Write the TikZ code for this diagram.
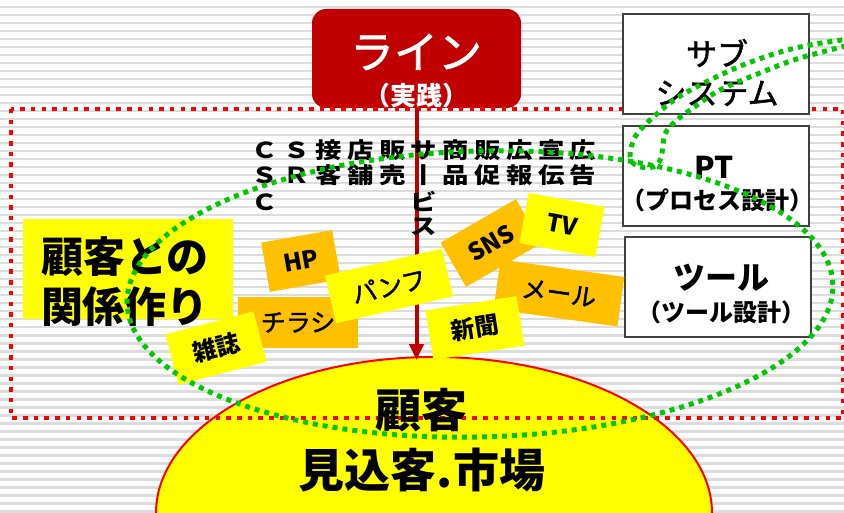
\documentclass[tikz,border=0pt]{standalone}
\usepackage{fontspec}
\setmainfont{Noto Sans CJK JP}
\newfontfamily\colfont[FakeStretch=1.2]{Noto Sans CJK JP}
\newfontfamily\medfont[FakeBold=1.6]{Noto Sans CJK JP}
\usetikzlibrary{shapes.geometric,arrows.meta}
\definecolor{darkred}{HTML}{C00000}
\definecolor{orng}{HTML}{FFC000}
\definecolor{ylw}{HTML}{FFFF00}
\definecolor{grn}{HTML}{00C800}
\definecolor{rdot}{HTML}{FF0000}
\definecolor{stripe}{HTML}{DCDCDC}
\definecolor{boxline}{HTML}{404040}
\newcommand\cw[1]{\makebox[31.8pt]{#1}}
\newcommand\fs[2]{\fontsize{#1}{#2}\selectfont}
\tikzset{
  reddot/.style={draw=rdot, line width=4pt, dash pattern=on 4.5pt off 6.2pt},
  greendot/.style={draw=grn, line width=5pt, dash pattern=on 5pt off 5pt},
  rbox/.style={draw=boxline, line width=1.5pt, fill=white, minimum width=186pt, minimum height=100pt, inner sep=0pt},
  tagO/.style={fill=orng, inner sep=0pt},
  tagY/.style={fill=ylw, inner sep=0pt},
  tagb/.style={font=\bfseries\fs{24}{24}},
  tagr/.style={font=\medfont\fs{25}{25}},
  coltext/.style={inner sep=0pt, anchor=west, font=\colfont\bfseries\fs{22}{22}},
  arr/.style={draw=darkred, line width=4pt, -{Triangle[width=14pt,length=16pt]}},
}
\begin{document}
\begin{tikzpicture}[x=1pt,y=-1pt]
\useasboundingbox (0,0) rectangle (844,513);
\clip (0,0) rectangle (844,513);
\fill[white] (0,0) rectangle (844,513);
\foreach \i in {0,...,64} \fill[stripe] (0,{\i*8+6}) rectangle (844,{\i*8+8.5});

% Line box
\node[fill=darkred, rounded corners=14pt, minimum width=209pt, minimum height=99pt, inner sep=0pt] (line) at (416.5,58.5) {};
\node[text=white, font=\medfont\fs{44}{44}, inner sep=0pt] (linet) at (416,52) {ライン};
\node[text=white, font=\bfseries\fs{26}{26}, inner sep=0pt] (jissen) at (416,96) {（実践）};

% dome
\node[draw=rdot, line width=2pt, fill=ylw, ellipse, minimum width=556pt, minimum height=312pt, inner sep=0pt] (dome) at (434,513) {};

% red dotted frame
\draw[reddot] (11,109) rectangle (843,418);

% right boxes
\node[rbox] (sub) at (716,64) {};
\node[font=\medfont\fs{31}{39}, align=center, inner sep=0pt] (subt) at (717,72.5) {サブ\\システム};
\node[rbox] (pt) at (716,176) {};
\node[font=\bfseries\fs{30}{30}, inner sep=0pt] (ptt) at (714,167) {PT};
\node[font=\bfseries\fs{24}{24}, inner sep=0pt] (ptd) at (717,200) {（プロセス設計）};
\node[rbox] (tool) at (718,287) {};
\node[font=\bfseries\fs{32}{32}, inner sep=0pt] (toolt) at (721,278) {ツール};
\node[font=\bfseries\fs{24}{24}, inner sep=0pt] (toold) at (721,312) {（ツール設計）};

% arrow
\draw[arr, shorten >=-4pt] (line.south) -- (line.south |- dome.north);

% dome text
\node[font=\bfseries\fs{46}{46}, inner sep=0pt] (kokyaku) at (421,410) {顧客};
\node[font=\bfseries\fs{46}{46}, inner sep=0pt] (mikomi) at (422,470) {見込客.市場};

% column text
\node[coltext] (row1) at (249,150) {\cw{Ｃ}\cw{Ｓ}\cw{接}\cw{店}\cw{販}\cw{サ}\cw{商}\cw{販}\cw{広}\cw{宣}\cw{広}};
\node[coltext] (row2) at (249,175.5) {\cw{Ｓ}\cw{Ｒ}\cw{客}\cw{舗}\cw{売}\cw{丨}\cw{品}\cw{促}\cw{報}\cw{伝}\cw{告}};
\node[coltext] (row3) at (249,201.5) {\cw{Ｃ}\cw{}\cw{}\cw{}\cw{}\cw{ビ}};
\node[coltext] (row4) at (249,227) {\cw{}\cw{}\cw{}\cw{}\cw{}\cw{ス}};

% left yellow box
\node[fill=ylw, minimum width=210pt, minimum height=100pt, inner sep=0pt] (kbox) at (128,269) {};
\node[font=\bfseries\fs{42}{50}, align=center, inner sep=0pt] (kankei) at (125,282) {顧客との\\関係作り};

% tags
\node[tagO, tagb, minimum width=72pt, minimum height=50pt, rotate=10] (hp) at (301,261) {HP};
\node[tagO, tagr, minimum width=120pt, minimum height=51pt] (chirashi) at (298,322.5) {\raisebox{-5pt}{チラシ}};
\node[tagY, tagb, minimum width=91pt, minimum height=52pt, rotate=14.6] (zasshi) at (216,348) {雑誌};
\node[tagO, tagb, minimum width=87pt, minimum height=51pt, rotate=30] (sns) at (491,243) {SNS};
\node[tagY, tagb, minimum width=77pt, minimum height=51pt, rotate=-10.5] (tv) at (562,225) {TV};
\node[tagO, tagr, minimum width=125pt, minimum height=50pt, rotate=-8] (mail) at (559,293) {メール};
\node[tagY, tagr, minimum width=120pt, minimum height=49pt, rotate=13] (panfu) at (389,286) {パンフ};
\node[tagY, tagb, minimum width=92pt, minimum height=50pt, rotate=9] (shinbun) at (475,328) {新聞};

% green curves
\draw[greendot, rotate around={1.5:(480,294)}] (480,294) ellipse [x radius=353pt, y radius=143pt];
\draw[greendot] plot[smooth, tension=0.55] coordinates {(862,37) (810,45) (777,53) (743,65) (710,80) (677,98) (650,120) (635,137) (630,156) (637,166) (653,167) (661,158) (665,134) (677,120) (693,108) (720,90) (760,73) (800,58) (862,42)};
\end{tikzpicture}
\end{document}
